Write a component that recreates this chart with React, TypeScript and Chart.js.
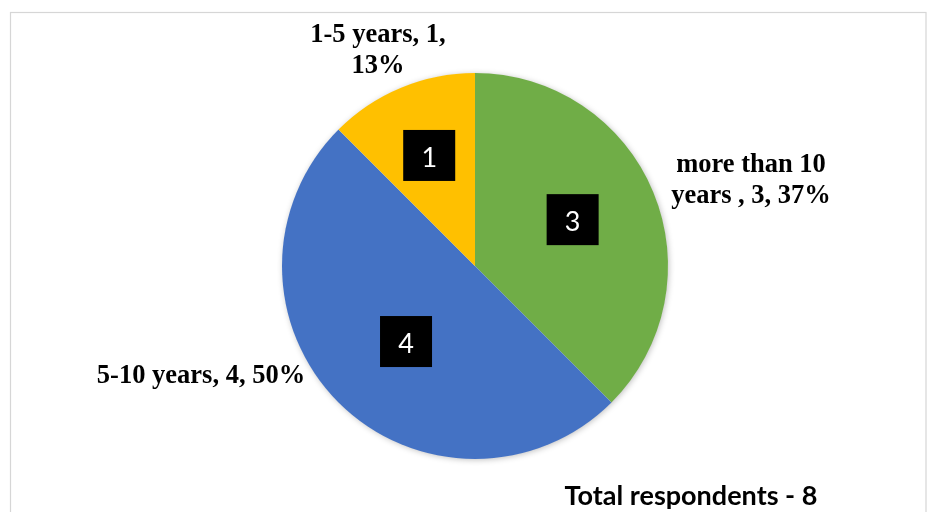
import React, { useEffect, useRef } from "react";
import { Chart, registerables } from "chart.js";

Chart.register(...registerables);

// ---- data ----
const categories = ["more than 10 years ", "5-10 years", "1-5 years"];
const respondents = [3, 4, 1];
const percentLabels = ["37%", "50%", "13%"];
const sliceColors = ["#70AD47", "#4472C4", "#FFC000"];
const totalLabel = "Total respondents - 8";

// ---- styling for the labels (not data) ----
const boxStyle = {
  radiusFrac: [0.56, 0.53, 0.62],
  angleShiftDeg: [-2.9, -2.6, 0],
  w: 52,
  h: 51,
};
const outsideStyle = {
  // anchor = centre x / first baseline, relative to the pie centre
  dx: [276, -274, -97],
  dy: [-94.5, 117, -224.5],
  maxWidth: [170, 320, 150],
  lineHeight: 31.5,
  font: "bold 26.5px 'Liberation Serif', 'Times New Roman', serif",
};

function wrapText(ctx: CanvasRenderingContext2D, text: string, maxW: number): string[] {
  const words = text.split(" ");
  const lines: string[] = [];
  let cur = "";
  for (const w of words) {
    const test = cur ? cur + " " + w : w;
    if (cur && ctx.measureText(test.trim()).width > maxW) {
      lines.push(cur.trim());
      cur = w;
    } else {
      cur = test;
    }
  }
  if (cur.trim()) lines.push(cur.trim());
  return lines;
}

const framePlugin = {
  id: "frame",
  beforeDraw(chart: any) {
    const ctx = chart.ctx as CanvasRenderingContext2D;
    ctx.save();
    ctx.fillStyle = "#ffffff";
    ctx.fillRect(0, 0, chart.width, chart.height);
    ctx.strokeStyle = "#d6d6d6";
    ctx.lineWidth = 1.2;
    ctx.strokeRect(10.5, 12.5, chart.width - 11.5, chart.height + 20);
    ctx.restore();
  },
};

const shadowPlugin = {
  id: "pieShadow",
  beforeDatasetsDraw(chart: any) {
    const meta = chart.getDatasetMeta(0);
    if (!meta.data.length) return;
    const a = meta.data[0];
    const ctx = chart.ctx as CanvasRenderingContext2D;
    ctx.save();
    ctx.shadowColor = "rgba(0,0,0,0.28)";
    ctx.shadowBlur = 6;
    ctx.shadowOffsetX = 1;
    ctx.shadowOffsetY = 1;
    ctx.fillStyle = "#ffffff";
    ctx.beginPath();
    ctx.arc(a.x, a.y, a.outerRadius - 0.5, 0, Math.PI * 2);
    ctx.fill();
    ctx.restore();
  },
};

const labelPlugin = {
  id: "sliceLabels",
  afterDatasetsDraw(chart: any) {
    const ctx = chart.ctx as CanvasRenderingContext2D;
    const meta = chart.getDatasetMeta(0);
    const values = chart.data.datasets[0].data as number[];
    meta.data.forEach((arc: any, i: number) => {
      const { x, y, startAngle, endAngle, outerRadius } = arc.getProps(
        ["x", "y", "startAngle", "endAngle", "outerRadius"],
        true
      );
      // black value box inside the slice
      const mid = (startAngle + endAngle) / 2 + (boxStyle.angleShiftDeg[i] * Math.PI) / 180;
      const r = outerRadius * boxStyle.radiusFrac[i];
      const bx = x + Math.cos(mid) * r;
      const by = y + Math.sin(mid) * r;
      ctx.save();
      ctx.fillStyle = "#000000";
      ctx.fillRect(bx - boxStyle.w / 2, by - boxStyle.h / 2, boxStyle.w, boxStyle.h);
      ctx.fillStyle = "#ffffff";
      ctx.font = "27px Lato, 'Liberation Sans', sans-serif";
      ctx.textAlign = "center";
      ctx.textBaseline = "middle";
      ctx.fillText(String(values[i]), bx, by + 3);
      ctx.restore();

      // outside category label
      ctx.save();
      ctx.font = outsideStyle.font;
      ctx.fillStyle = "#000000";
      ctx.textAlign = "center";
      ctx.textBaseline = "alphabetic";
      const text = `${categories[i]}, ${values[i]}, ${percentLabels[i]}`;
      const lines = wrapText(ctx, text, outsideStyle.maxWidth[i]);
      const ax = x + outsideStyle.dx[i];
      const ay = y + outsideStyle.dy[i];
      lines.forEach((ln, k) => ctx.fillText(ln, ax, ay + k * outsideStyle.lineHeight));
      ctx.restore();
    });
  },
  afterDraw(chart: any) {
    const ctx = chart.ctx as CanvasRenderingContext2D;
    ctx.save();
    ctx.font = "bold 27px Lato, 'Liberation Sans', sans-serif";
    ctx.fillStyle = "#000000";
    ctx.textAlign = "center";
    ctx.textBaseline = "alphabetic";
    ctx.fillText(totalLabel, 691, 505);
    ctx.restore();
  },
};

export default function App() {
  const canvasRef = useRef<HTMLCanvasElement | null>(null);

  useEffect(() => {
    if (!canvasRef.current) return;
    const chart = new Chart(canvasRef.current, {
      type: "pie",
      data: {
        labels: categories,
        datasets: [
          {
            data: respondents,
            backgroundColor: sliceColors,
            borderWidth: 0,
            hoverOffset: 0,
          },
        ],
      },
      options: {
        animation: false,
        responsive: true,
        maintainAspectRatio: false,
        layout: {
          padding: { left: 282, right: 259, top: 73, bottom: 53 },
        },
        plugins: {
          legend: { display: false },
          tooltip: { enabled: false },
        },
        events: [],
      },
      plugins: [framePlugin, shadowPlugin, labelPlugin],
    });
    return () => chart.destroy();
  }, []);

  return (
    <div
      style={{
        position: "fixed",
        left: 0,
        top: 0,
        width: "927px",
        height: "512px",
        background: "#fff",
      }}
    >
      <canvas ref={canvasRef} />
    </div>
  );
}
